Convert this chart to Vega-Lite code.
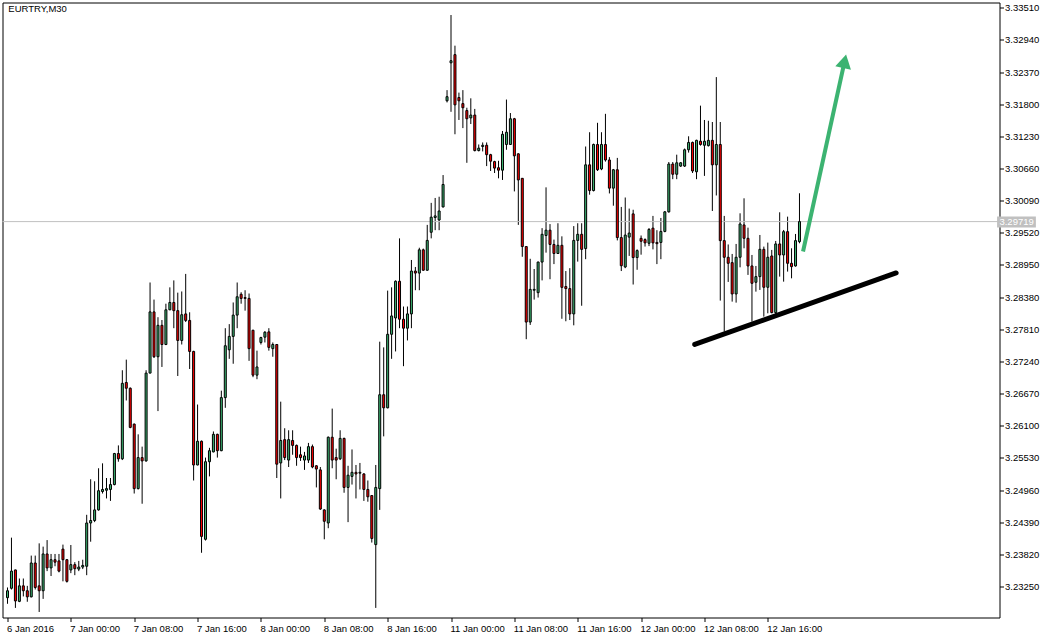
{
  "$schema": "https://vega.github.io/schema/vega-lite/v6.json",
  "autosize": {"type": "none"},
  "padding": {"left": 2.5, "top": 2.5, "right": 52.5, "bottom": 21.5},
  "width": 997,
  "height": 615,
  "background": "#ffffff",
  "config": {
    "view": {"stroke": "#000000", "strokeWidth": 1},
    "axis": {"labelOverlap": false, "labelFlush": false, "labelBound": false, "grid": false, "domain": false, "title": null,
      "labelFont": "Liberation Sans", "labelFontSize": 9.5, "labelColor": "#000000", "tickSize": 4, "tickColor": "#000000", "tickWidth": 1}
  },
  "data": {"values": [{"note": "annotation"}]},
  "datasets": {
    "candles": [
      {"i":-16,"o":3.23054,"h":3.23235,"l":3.22946,"c":3.23177},
      {"i":-15,"o":3.23221,"h":3.24118,"l":3.23199,"c":3.23525},
      {"i":-14,"o":3.23546,"h":3.23550,"l":3.22873,"c":3.22996},
      {"i":-13,"o":3.22989,"h":3.23394,"l":3.22975,"c":3.23264},
      {"i":-12,"o":3.23264,"h":3.23394,"l":3.23076,"c":3.23177},
      {"i":-11,"o":3.23177,"h":3.23264,"l":3.22982,"c":3.23069},
      {"i":-10,"o":3.23069,"h":3.23800,"l":3.23060,"c":3.23669},
      {"i":-9,"o":3.23669,"h":3.23800,"l":3.23199,"c":3.23235},
      {"i":-8,"o":3.23264,"h":3.24017,"l":3.22801,"c":3.23177},
      {"i":-7,"o":3.23177,"h":3.23959,"l":3.23033,"c":3.23829},
      {"i":-6,"o":3.23829,"h":3.24075,"l":3.23525,"c":3.23582},
      {"i":-5,"o":3.23582,"h":3.23829,"l":3.23438,"c":3.23727},
      {"i":-4,"o":3.23727,"h":3.23829,"l":3.23611,"c":3.23684},
      {"i":-3,"o":3.23706,"h":3.23829,"l":3.23503,"c":3.23525},
      {"i":-2,"o":3.23915,"h":3.23995,"l":3.23344,"c":3.23727},
      {"i":-1,"o":3.23727,"h":3.23740,"l":3.23322,"c":3.23344},
      {"i":0,"o":3.23546,"h":3.23988,"l":3.23489,"c":3.23640},
      {"i":1,"o":3.23640,"h":3.23684,"l":3.23453,"c":3.23568},
      {"i":2,"o":3.23561,"h":3.23706,"l":3.23525,"c":3.23597},
      {"i":3,"o":3.23597,"h":3.23727,"l":3.23561,"c":3.23626},
      {"i":4,"o":3.23611,"h":3.24523,"l":3.23453,"c":3.24378},
      {"i":5,"o":3.24378,"h":3.25153,"l":3.24046,"c":3.24422},
      {"i":6,"o":3.24422,"h":3.25117,"l":3.24393,"c":3.24610},
      {"i":7,"o":3.24610,"h":3.25348,"l":3.24596,"c":3.24950},
      {"i":8,"o":3.24936,"h":3.25435,"l":3.24900,"c":3.24972},
      {"i":9,"o":3.24958,"h":3.25175,"l":3.24813,"c":3.24987},
      {"i":10,"o":3.24972,"h":3.25175,"l":3.24769,"c":3.25059},
      {"i":11,"o":3.25059,"h":3.25620,"l":3.25045,"c":3.25609},
      {"i":12,"o":3.25609,"h":3.25753,"l":3.25464,"c":3.25515},
      {"i":13,"o":3.25515,"h":3.27085,"l":3.25493,"c":3.26853},
      {"i":14,"o":3.26868,"h":3.27273,"l":3.26549,"c":3.26766},
      {"i":15,"o":3.26766,"h":3.26780,"l":3.26057,"c":3.26072},
      {"i":16,"o":3.26130,"h":3.26140,"l":3.24900,"c":3.24987},
      {"i":17,"o":3.24987,"h":3.25949,"l":3.24972,"c":3.25537},
      {"i":18,"o":3.25537,"h":3.25731,"l":3.24719,"c":3.25478},
      {"i":19,"o":3.25478,"h":3.27085,"l":3.25464,"c":3.27034},
      {"i":20,"o":3.27034,"h":3.28640,"l":3.27034,"c":3.28119},
      {"i":21,"o":3.28119,"h":3.28337,"l":3.27302,"c":3.27324},
      {"i":22,"o":3.27324,"h":3.28025,"l":3.26361,"c":3.27881},
      {"i":23,"o":3.27881,"h":3.27975,"l":3.27143,"c":3.27541},
      {"i":24,"o":3.27541,"h":3.28264,"l":3.27530,"c":3.28156},
      {"i":25,"o":3.28156,"h":3.28554,"l":3.28150,"c":3.28286},
      {"i":26,"o":3.28286,"h":3.28677,"l":3.27830,"c":3.28141},
      {"i":27,"o":3.28141,"h":3.28460,"l":3.26983,"c":3.27613},
      {"i":28,"o":3.27613,"h":3.28481,"l":3.27541,"c":3.28069},
      {"i":29,"o":3.28083,"h":3.28792,"l":3.27939,"c":3.27968},
      {"i":30,"o":3.27968,"h":3.28112,"l":3.27107,"c":3.27418},
      {"i":31,"o":3.27418,"h":3.27430,"l":3.25131,"c":3.25406},
      {"i":32,"o":3.25406,"h":3.26477,"l":3.25400,"c":3.25826},
      {"i":33,"o":3.25826,"h":3.25840,"l":3.23850,"c":3.24140},
      {"i":34,"o":3.24089,"h":3.25537,"l":3.24067,"c":3.25464},
      {"i":35,"o":3.25464,"h":3.25710,"l":3.25204,"c":3.25659},
      {"i":36,"o":3.25638,"h":3.26000,"l":3.25630,"c":3.25949},
      {"i":37,"o":3.25949,"h":3.25960,"l":3.25537,"c":3.25659},
      {"i":38,"o":3.25659,"h":3.26723,"l":3.25650,"c":3.26600},
      {"i":39,"o":3.26600,"h":3.27830,"l":3.26419,"c":3.27519},
      {"i":40,"o":3.27447,"h":3.27902,"l":3.27287,"c":3.27685},
      {"i":41,"o":3.27685,"h":3.28286,"l":3.27200,"c":3.28062},
      {"i":42,"o":3.28062,"h":3.28640,"l":3.27830,"c":3.28387},
      {"i":43,"o":3.28431,"h":3.28467,"l":3.28264,"c":3.28358},
      {"i":44,"o":3.28373,"h":3.28503,"l":3.28141,"c":3.28358},
      {"i":45,"o":3.28358,"h":3.28445,"l":3.27251,"c":3.27468},
      {"i":46,"o":3.27794,"h":3.27800,"l":3.26962,"c":3.26998},
      {"i":47,"o":3.26998,"h":3.27432,"l":3.26926,"c":3.27143},
      {"i":48,"o":3.27577,"h":3.27678,"l":3.27541,"c":3.27664},
      {"i":49,"o":3.27671,"h":3.27779,"l":3.27577,"c":3.27758},
      {"i":50,"o":3.27765,"h":3.27830,"l":3.27432,"c":3.27490},
      {"i":51,"o":3.27468,"h":3.27577,"l":3.27324,"c":3.27541},
      {"i":52,"o":3.27541,"h":3.27550,"l":3.25175,"c":3.25420},
      {"i":53,"o":3.25442,"h":3.26528,"l":3.24813,"c":3.25840},
      {"i":54,"o":3.25855,"h":3.26057,"l":3.25493,"c":3.25537},
      {"i":55,"o":3.25493,"h":3.26021,"l":3.25370,"c":3.25855},
      {"i":56,"o":3.25840,"h":3.26021,"l":3.25587,"c":3.25753},
      {"i":57,"o":3.25753,"h":3.25768,"l":3.25392,"c":3.25537},
      {"i":58,"o":3.25587,"h":3.25731,"l":3.25478,"c":3.25537},
      {"i":59,"o":3.25493,"h":3.25638,"l":3.25319,"c":3.25566},
      {"i":60,"o":3.25493,"h":3.25797,"l":3.25442,"c":3.25731},
      {"i":61,"o":3.25731,"h":3.25768,"l":3.25348,"c":3.25370},
      {"i":62,"o":3.25392,"h":3.25400,"l":3.25008,"c":3.25334},
      {"i":63,"o":3.25319,"h":3.25370,"l":3.24610,"c":3.24625},
      {"i":64,"o":3.24610,"h":3.24620,"l":3.24089,"c":3.24408},
      {"i":65,"o":3.24378,"h":3.25910,"l":3.24285,"c":3.25898},
      {"i":66,"o":3.25898,"h":3.26405,"l":3.25348,"c":3.25493},
      {"i":67,"o":3.25537,"h":3.25695,"l":3.25153,"c":3.25493},
      {"i":68,"o":3.25515,"h":3.26021,"l":3.25493,"c":3.25877},
      {"i":69,"o":3.25877,"h":3.25890,"l":3.24914,"c":3.25008},
      {"i":70,"o":3.25008,"h":3.25392,"l":3.24393,"c":3.25225},
      {"i":71,"o":3.25204,"h":3.25681,"l":3.25059,"c":3.25276},
      {"i":72,"o":3.25276,"h":3.25406,"l":3.24813,"c":3.25247},
      {"i":73,"o":3.25261,"h":3.25442,"l":3.24972,"c":3.25276},
      {"i":74,"o":3.25247,"h":3.25261,"l":3.24769,"c":3.24972},
      {"i":75,"o":3.24972,"h":3.25131,"l":3.24755,"c":3.24842},
      {"i":76,"o":3.24864,"h":3.24870,"l":3.24031,"c":3.24104},
      {"i":77,"o":3.23995,"h":3.25406,"l":3.22873,"c":3.25008},
      {"i":78,"o":3.24987,"h":3.27591,"l":3.24610,"c":3.26651},
      {"i":79,"o":3.26651,"h":3.27490,"l":3.25913,"c":3.26419},
      {"i":80,"o":3.26419,"h":3.28496,"l":3.26410,"c":3.27722},
      {"i":81,"o":3.27722,"h":3.28554,"l":3.27287,"c":3.28047},
      {"i":82,"o":3.28011,"h":3.28677,"l":3.27418,"c":3.28662},
      {"i":83,"o":3.28662,"h":3.29422,"l":3.27830,"c":3.27989},
      {"i":84,"o":3.27989,"h":3.28214,"l":3.27157,"c":3.27830},
      {"i":85,"o":3.27830,"h":3.28214,"l":3.27613,"c":3.28083},
      {"i":86,"o":3.28083,"h":3.29039,"l":3.27830,"c":3.28843},
      {"i":87,"o":3.28843,"h":3.28915,"l":3.28503,"c":3.28807},
      {"i":88,"o":3.28807,"h":3.29256,"l":3.28503,"c":3.29219},
      {"i":89,"o":3.29219,"h":3.29241,"l":3.28850,"c":3.28857},
      {"i":90,"o":3.28857,"h":3.29661,"l":3.28850,"c":3.29386},
      {"i":91,"o":3.29530,"h":3.30051,"l":3.29422,"c":3.29798},
      {"i":92,"o":3.29791,"h":3.30138,"l":3.29567,"c":3.29820},
      {"i":93,"o":3.29748,"h":3.30160,"l":3.29567,"c":3.29907},
      {"i":94,"o":3.29979,"h":3.30544,"l":3.29970,"c":3.30377},
      {"i":95,"o":3.31860,"h":3.32049,"l":3.31831,"c":3.31933},
      {"i":96,"o":3.32533,"h":3.33380,"l":3.31665,"c":3.32570},
      {"i":97,"o":3.32678,"h":3.32837,"l":3.31267,"c":3.31788},
      {"i":98,"o":3.31918,"h":3.32005,"l":3.31520,"c":3.31860},
      {"i":99,"o":3.31810,"h":3.32049,"l":3.31376,"c":3.31737},
      {"i":100,"o":3.31687,"h":3.31737,"l":3.30761,"c":3.31542},
      {"i":101,"o":3.31557,"h":3.31904,"l":3.31448,"c":3.31607},
      {"i":102,"o":3.31607,"h":3.31716,"l":3.30963,"c":3.30978},
      {"i":103,"o":3.30978,"h":3.31086,"l":3.30963,"c":3.31021},
      {"i":104,"o":3.31050,"h":3.31122,"l":3.30963,"c":3.31072},
      {"i":105,"o":3.31072,"h":3.31122,"l":3.30703,"c":3.30905},
      {"i":106,"o":3.30905,"h":3.30920,"l":3.30616,"c":3.30790},
      {"i":107,"o":3.30782,"h":3.30797,"l":3.30580,"c":3.30667},
      {"i":108,"o":3.30674,"h":3.30797,"l":3.30486,"c":3.30630},
      {"i":109,"o":3.30630,"h":3.31325,"l":3.30457,"c":3.31267},
      {"i":110,"o":3.31086,"h":3.31882,"l":3.30992,"c":3.31303},
      {"i":111,"o":3.31086,"h":3.31643,"l":3.31080,"c":3.31542},
      {"i":112,"o":3.31542,"h":3.31557,"l":3.30254,"c":3.30884},
      {"i":113,"o":3.30920,"h":3.30930,"l":3.29661,"c":3.30457},
      {"i":114,"o":3.30486,"h":3.30490,"l":3.29096,"c":3.29277},
      {"i":115,"o":3.29277,"h":3.29280,"l":3.27635,"c":3.27939},
      {"i":116,"o":3.27939,"h":3.29060,"l":3.27888,"c":3.28518},
      {"i":117,"o":3.28503,"h":3.28879,"l":3.28337,"c":3.28518},
      {"i":118,"o":3.28460,"h":3.29010,"l":3.28373,"c":3.29002},
      {"i":119,"o":3.29002,"h":3.29603,"l":3.28677,"c":3.29494},
      {"i":120,"o":3.29473,"h":3.30326,"l":3.29169,"c":3.29567},
      {"i":121,"o":3.29567,"h":3.29675,"l":3.28698,"c":3.29314},
      {"i":122,"o":3.29314,"h":3.29400,"l":3.28966,"c":3.29154},
      {"i":123,"o":3.29154,"h":3.29690,"l":3.29150,"c":3.29299},
      {"i":124,"o":3.29299,"h":3.29458,"l":3.27997,"c":3.28554},
      {"i":125,"o":3.28568,"h":3.28843,"l":3.27953,"c":3.28532},
      {"i":126,"o":3.28532,"h":3.28894,"l":3.27975,"c":3.28083},
      {"i":127,"o":3.28083,"h":3.29639,"l":3.27881,"c":3.29386},
      {"i":128,"o":3.29386,"h":3.29690,"l":3.29010,"c":3.29494},
      {"i":129,"o":3.29494,"h":3.29690,"l":3.28228,"c":3.29227},
      {"i":130,"o":3.29241,"h":3.31050,"l":3.29053,"c":3.30725},
      {"i":131,"o":3.30725,"h":3.31303,"l":3.30196,"c":3.30269},
      {"i":132,"o":3.30269,"h":3.31101,"l":3.30254,"c":3.31086},
      {"i":133,"o":3.31086,"h":3.31470,"l":3.30616,"c":3.30638},
      {"i":134,"o":3.30652,"h":3.31303,"l":3.30630,"c":3.31086},
      {"i":135,"o":3.31086,"h":3.31629,"l":3.30782,"c":3.30811},
      {"i":136,"o":3.30811,"h":3.30862,"l":3.30218,"c":3.30312},
      {"i":137,"o":3.30312,"h":3.30652,"l":3.30001,"c":3.30638},
      {"i":138,"o":3.30638,"h":3.30848,"l":3.29386,"c":3.29436},
      {"i":139,"o":3.29436,"h":3.29979,"l":3.28843,"c":3.28937},
      {"i":140,"o":3.28915,"h":3.30146,"l":3.28894,"c":3.29480},
      {"i":141,"o":3.29444,"h":3.29950,"l":3.29111,"c":3.29516},
      {"i":142,"o":3.29856,"h":3.29929,"l":3.28604,"c":3.29082},
      {"i":143,"o":3.29082,"h":3.29227,"l":3.28865,"c":3.29205},
      {"i":144,"o":3.29422,"h":3.29473,"l":3.29133,"c":3.29371},
      {"i":145,"o":3.29400,"h":3.29422,"l":3.29277,"c":3.29342},
      {"i":146,"o":3.29335,"h":3.29603,"l":3.29285,"c":3.29581},
      {"i":147,"o":3.29603,"h":3.29820,"l":3.29227,"c":3.29342},
      {"i":148,"o":3.29350,"h":3.29567,"l":3.28966,"c":3.29328},
      {"i":149,"o":3.29350,"h":3.29784,"l":3.29053,"c":3.29545},
      {"i":150,"o":3.29545,"h":3.29907,"l":3.29530,"c":3.29892},
      {"i":151,"o":3.29892,"h":3.30775,"l":3.29878,"c":3.30739},
      {"i":152,"o":3.30739,"h":3.30775,"l":3.30471,"c":3.30558},
      {"i":153,"o":3.30558,"h":3.30905,"l":3.30471,"c":3.30761},
      {"i":154,"o":3.30703,"h":3.30775,"l":3.30688,"c":3.30761},
      {"i":155,"o":3.30703,"h":3.31014,"l":3.30688,"c":3.30992},
      {"i":156,"o":3.30992,"h":3.31231,"l":3.30942,"c":3.31122},
      {"i":157,"o":3.31122,"h":3.31137,"l":3.30580,"c":3.30616},
      {"i":158,"o":3.30602,"h":3.31170,"l":3.30471,"c":3.31159},
      {"i":159,"o":3.31144,"h":3.31774,"l":3.31065,"c":3.31086},
      {"i":160,"o":3.31072,"h":3.31520,"l":3.30529,"c":3.31144},
      {"i":161,"o":3.31065,"h":3.31506,"l":3.31050,"c":3.31159},
      {"i":162,"o":3.31159,"h":3.31484,"l":3.29907,"c":3.30725},
      {"i":163,"o":3.30725,"h":3.32280,"l":3.30182,"c":3.31086},
      {"i":164,"o":3.31086,"h":3.31484,"l":3.28319,"c":3.29382},
      {"i":165,"o":3.29382,"h":3.29820,"l":3.27769,"c":3.29087},
      {"i":166,"o":3.29087,"h":3.29314,"l":3.28650,"c":3.28980},
      {"i":167,"o":3.28992,"h":3.29146,"l":3.28301,"c":3.28437},
      {"i":168,"o":3.28437,"h":3.29323,"l":3.28283,"c":3.29087},
      {"i":169,"o":3.29087,"h":3.29866,"l":3.28909,"c":3.29677},
      {"i":170,"o":3.29660,"h":3.30132,"l":3.29246,"c":3.29423},
      {"i":171,"o":3.29423,"h":3.29612,"l":3.28774,"c":3.28933},
      {"i":172,"o":3.28933,"h":3.29128,"l":3.27947,"c":3.28626},
      {"i":173,"o":3.28644,"h":3.28933,"l":3.28478,"c":3.28744},
      {"i":174,"o":3.28744,"h":3.29482,"l":3.28508,"c":3.29228},
      {"i":175,"o":3.29228,"h":3.29276,"l":3.28035,"c":3.28555},
      {"i":176,"o":3.28555,"h":3.29347,"l":3.28094,"c":3.29087},
      {"i":177,"o":3.29110,"h":3.29217,"l":3.28094,"c":3.28106},
      {"i":178,"o":3.28106,"h":3.29376,"l":3.28082,"c":3.29323},
      {"i":179,"o":3.29323,"h":3.29884,"l":3.28744,"c":3.29128},
      {"i":180,"o":3.29128,"h":3.29571,"l":3.28655,"c":3.29541},
      {"i":181,"o":3.29541,"h":3.29807,"l":3.28833,"c":3.28980},
      {"i":182,"o":3.28980,"h":3.29246,"l":3.28714,"c":3.28921},
      {"i":183,"o":3.28933,"h":3.29500,"l":3.28921,"c":3.29382},
      {"i":184,"o":3.29364,"h":3.30221,"l":3.29335,"c":3.29719}
    ],
    "trend": [{"x1":157.55,"p1":3.27543,"x2":208.4,"p2":3.28809}],
    "arrow": [{"x1":184.9,"p1":3.29190,"x2":195.4,"p2":3.32560}]
  },
  "layer": [
    {
      "data": {"name": "candles"},
      "mark": {"type": "rule", "color": "#000000", "strokeWidth": 1, "clip": true},
      "encoding": {
        "x": {"field": "i", "type": "quantitative",
          "scale": {"domain": [-16, 233.25], "nice": false, "zero": false},
          "axis": {"orient": "bottom", "values": [-16,0,16,32,48,64,80,96,112,128,144,160,176], "tickCount": 40,
            "labelExpr": "['6 Jan 2016','7 Jan 00:00','7 Jan 08:00','7 Jan 16:00','8 Jan 00:00','8 Jan 08:00','8 Jan 16:00','11 Jan 00:00','11 Jan 08:00','11 Jan 16:00','12 Jan 00:00','12 Jan 08:00','12 Jan 16:00'][(datum.value+16)/16]",
            "labelAlign": "left", "labelBaseline": "top", "labelPadding": 2, "labelOffset": -1, "labelOverlap": false, "title": null}},
        "y": {"field": "l", "type": "quantitative",
          "scale": {"domain": [3.22703, 3.33602], "nice": false, "zero": false},
          "axis": {"orient": "right", "values": [3.2325,3.2382,3.2439,3.2496,3.2553,3.261,3.2667,3.2724,3.2781,3.2838,3.2895,3.2952,3.3009,3.3066,3.3123,3.318,3.3237,3.3294,3.3351], "tickCount": 40,
            "format": ".5f", "labelAlign": "left", "labelBaseline": "middle", "labelPadding": 1, "labelOverlap": false, "title": null}},
        "y2": {"field": "h"}
      }
    },
    {
      "mark": {"type": "rule", "color": "#c0c0c0", "strokeWidth": 1},
      "encoding": {
        "y": {"datum": 3.29719, "type": "quantitative", "axis": {"orient": "right", "labelOverlap": false, "title": null}}
      }
    },
    {
      "data": {"name": "candles"},
      "mark": {"type": "bar", "size": 2, "stroke": "#000000", "strokeWidth": 1, "clip": true, "orient": "vertical"},
      "encoding": {
        "x": {"field": "i", "type": "quantitative", "axis": {"orient": "bottom", "labelOverlap": false, "title": null}},
        "y": {"field": "o", "type": "quantitative", "axis": {"orient": "right", "labelOverlap": false, "title": null}},
        "y2": {"field": "c"},
        "color": {"condition": {"test": "datum.c >= datum.o", "value": "#3cb371"}, "value": "#ff0000"}
      }
    },
    {
      "data": {"name": "trend"},
      "mark": {"type": "rule", "color": "#000000", "strokeWidth": 5, "strokeCap": "round"},
      "encoding": {
        "x": {"field": "x1", "type": "quantitative", "axis": {"orient": "bottom", "labelOverlap": false, "title": null}},
        "y": {"field": "p1", "type": "quantitative", "axis": {"orient": "right", "labelOverlap": false, "title": null}},
        "x2": {"field": "x2"},
        "y2": {"field": "p2"}
      }
    },
    {
      "data": {"name": "arrow"},
      "mark": {"type": "rule", "color": "#3cb371", "strokeWidth": 4, "strokeCap": "butt"},
      "encoding": {
        "x": {"field": "x1", "type": "quantitative", "axis": {"orient": "bottom", "labelOverlap": false, "title": null}},
        "y": {"field": "p1", "type": "quantitative", "axis": {"orient": "right", "labelOverlap": false, "title": null}},
        "x2": {"field": "x2"},
        "y2": {"field": "p2"}
      }
    },
    {
      "data": {"name": "arrow"},
      "mark": {"type": "point", "shape": "triangle-up", "filled": true, "color": "#3cb371", "opacity": 1, "size": 256, "angle": 12.45, "strokeWidth": 0},
      "encoding": {
        "x": {"field": "x2", "type": "quantitative", "axis": {"orient": "bottom", "labelOverlap": false, "title": null}},
        "y": {"field": "p2", "type": "quantitative", "axis": {"orient": "right", "labelOverlap": false, "title": null}}
      }
    },
    {
      "mark": {"type": "rect", "color": "#c0c0c0", "clip": false},
      "encoding": {
        "x": {"datum": 233.9, "type": "quantitative", "axis": {"orient": "bottom", "labelOverlap": false, "title": null}},
        "x2": {"datum": 243.7},
        "y": {"datum": 3.29810, "type": "quantitative", "axis": {"orient": "right", "labelOverlap": false, "title": null}},
        "y2": {"datum": 3.29615}
      }
    },
    {
      "mark": {"type": "text", "color": "#ffffff", "align": "left", "baseline": "middle", "font": "Liberation Sans", "fontSize": 9.5, "clip": false},
      "encoding": {
        "x": {"datum": 234.5, "type": "quantitative", "axis": {"orient": "bottom", "labelOverlap": false, "title": null}},
        "y": {"datum": 3.29719, "type": "quantitative", "axis": {"orient": "right", "labelOverlap": false, "title": null}},
        "text": {"value": "3.29719"}
      }
    },
    {
      "mark": {"type": "text", "color": "#000000", "align": "left", "baseline": "alphabetic", "font": "Liberation Sans", "fontSize": 9.5},
      "encoding": {
        "x": {"datum": -15.8, "type": "quantitative", "axis": {"orient": "bottom", "labelOverlap": false, "title": null}},
        "y": {"datum": 3.33434, "type": "quantitative", "axis": {"orient": "right", "labelOverlap": false, "title": null}},
        "text": {"value": "EURTRY,M30"}
      }
    }
  ]
}
